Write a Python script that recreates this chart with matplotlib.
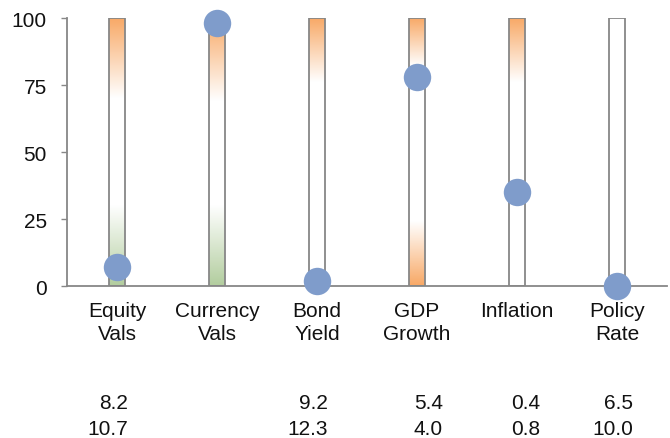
import numpy as np
import matplotlib.pyplot as plt
from matplotlib.patches import Rectangle

plt.rcParams['font.family'] = ['Liberation Sans', 'DejaVu Sans']

# indicators and where each sits on the 0-100 scale
categories = ["Equity\nVals", "Currency\nVals", "Bond\nYield", "GDP\nGrowth", "Inflation", "Policy\nRate"]
scores = [7, 98, 2, 78, 35, 0]

# gradient bands: top band fades from the top down to this level,
# bottom band fades from the floor up to this level (None = no band)
top_fade = [70, 69, 76, 82, 76, None]
bottom_fade = [30, 30, None, 24, None, None]
bottom_kind = ["green", "green", None, "orange", None, None]

# figures listed underneath the chart
row_one = ["8.2", "", "9.2", "5.4", "0.4", "6.5"]
row_two = ["10.7", "", "12.3", "4.0", "0.8", "10.0"]
label_right = [0.11, 1.11, 2.11, 3.26, 4.23, 5.16]

ORANGE = np.array([248, 168, 101]) / 255.0
GREEN = np.array([178, 205, 158]) / 255.0
WHITE = np.ones(3)
DOT = "#7f9ccb"
GREY = "#878787"
INK = "#111111"


def bar_colours(top, bottom, kind, n=400):
    levels = np.linspace(0, 100, n)
    cols = np.tile(WHITE, (n, 1))
    if top is not None:
        m = levels >= top
        t = ((levels[m] - top) / (100 - top))[:, None]
        cols[m] = WHITE * (1 - t) + ORANGE * t
    if bottom is not None:
        base = GREEN if kind == "green" else ORANGE
        m = levels <= bottom
        t = ((bottom - levels[m]) / bottom)[:, None]
        cols[m] = WHITE * (1 - t) + base * t
    return cols[::-1][:, None, :]


fig = plt.figure(figsize=(6.7, 4.39), dpi=100)
ax = fig.add_axes([0.1, 0.3462, 0.8955, 0.6105])

width = 0.16
for i in range(len(categories)):
    img = bar_colours(top_fade[i], bottom_fade[i], bottom_kind[i])
    ax.imshow(img, extent=[i - width / 2, i + width / 2, 0, 100], aspect="auto", zorder=1)
    ax.add_patch(Rectangle((i - width / 2, 0), width, 100, fill=False,
                           edgecolor=GREY, linewidth=1.3, zorder=2))

ax.scatter(range(len(categories)), scores, s=390, color=DOT, zorder=5, clip_on=False, linewidths=0)

ax.set_xlim(-0.5, len(categories) - 0.5)
ax.set_ylim(0, 100)
ax.set_yticks([0, 25, 50, 75, 100])
ax.set_xticks(range(len(categories)))
ax.set_xticklabels(categories, fontsize=15, color=INK, linespacing=1.3)
ax.tick_params(axis="x", length=0, pad=10.5)
ax.tick_params(axis="y", length=4.5, width=1, color=GREY, pad=10, labelsize=15, labelcolor=INK)

for side in ["top", "right"]:
    ax.spines[side].set_visible(False)
for side in ["left", "bottom"]:
    ax.spines[side].set_color(GREY)
    ax.spines[side].set_linewidth(1.3)

for i in range(len(categories)):
    ax.text(label_right[i], -43.3, row_one[i], ha="right", va="center", fontsize=15, color=INK, clip_on=False)
    ax.text(label_right[i], -53.0, row_two[i], ha="right", va="center", fontsize=15, color=INK, clip_on=False)

fig.savefig("out.png", dpi=100)
